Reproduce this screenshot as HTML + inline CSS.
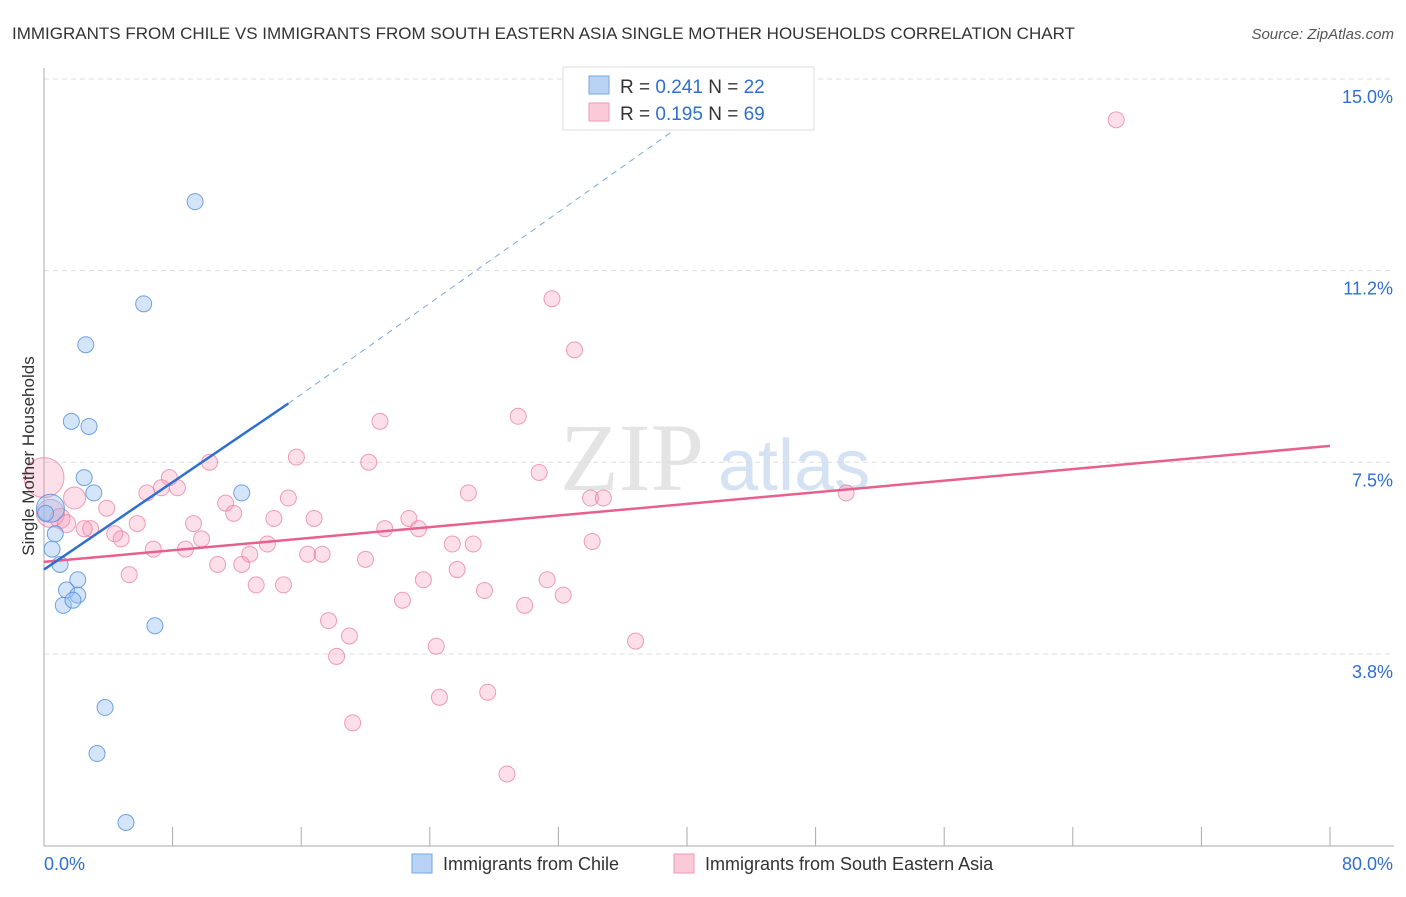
<!DOCTYPE html>
<html><head><meta charset="utf-8"><style>
body{margin:0;background:#fff;font-family:"Liberation Sans",sans-serif;}
</style></head><body>
<svg width="1406" height="892" xmlns="http://www.w3.org/2000/svg" font-family="Liberation Sans, sans-serif">
<text x="12" y="39" font-size="17" fill="#333">IMMIGRANTS FROM CHILE VS IMMIGRANTS FROM SOUTH EASTERN ASIA SINGLE MOTHER HOUSEHOLDS CORRELATION CHART</text>
<text x="1394" y="39" font-size="15" fill="#555" text-anchor="end" font-style="italic">Source: ZipAtlas.com</text>
<text x="560" y="490" font-size="96" fill="#e4e4e4" font-family="Liberation Serif, serif">ZIP</text>
<text x="718" y="490" font-size="72" fill="#d4e2f4">atlas</text>
<g id="grid"></g>
<g id="axes"></g>
<g id="pts"></g>
<g id="lines"></g>
<text x="34" y="456" font-size="17" fill="#333" text-anchor="middle" transform="rotate(-90 34 456)">Single Mother Households</text>
<g>
<rect x="563" y="67" width="251" height="63" fill="#fff" stroke="#ddd"/>
<rect x="589" y="76" width="20" height="18" fill="#b8d3f5" stroke="#7aa7e0"/>
<rect x="589" y="103" width="20" height="18" fill="#fbcad8" stroke="#ef9ab4"/>
<text x="620" y="93" font-size="19" fill="#333">R = <tspan fill="#2f6fd1">0.241</tspan>   N = <tspan fill="#2f6fd1">22</tspan></text>
<text x="620" y="120" font-size="19" fill="#333">R = <tspan fill="#2f6fd1">0.195</tspan>   N = <tspan fill="#2f6fd1">69</tspan></text>
</g>
<g>
<rect x="412" y="854" width="20" height="19" fill="#b8d3f5" stroke="#7aa7e0"/>
<text x="443" y="870" font-size="18" fill="#333">Immigrants from Chile</text>
<rect x="674" y="854" width="20" height="19" fill="#fbcad8" stroke="#ef9ab4"/>
<text x="705" y="870" font-size="18" fill="#333">Immigrants from South Eastern Asia</text>
</g>
<text x="44" y="870" font-size="18" fill="#2f6fd1">0.0%</text>
<text x="1393" y="870" font-size="18" fill="#2f6fd1" text-anchor="end">80.0%</text>
</svg>
<script>
const yTicks=[15.0,11.25,7.5,3.75];
const yTickLabels=["15.0%","11.2%","7.5%","3.8%"];
const xTicks=[0,8,16,24,32,40,48,56,64,72,80];
const chileX=[9.4,6.2,2.6,1.7,2.8,2.5,3.1,12.3,0.4,0.7,0.5,1.0,2.1,1.4,2.1,1.2,1.8,6.9,3.8,3.3,5.1,0.1];
const chileY=[12.6,10.6,9.8,8.3,8.2,7.2,6.9,6.9,6.6,6.1,5.8,5.5,5.2,5.0,4.9,4.7,4.8,4.3,2.7,1.8,0.45,6.5];
const chileR=[8,8,8,8,8,8,8,8,14,8,8,8,8,8,8,8,8,8,8,8,8,8];
const seaX=[66.7,31.6,33.0,20.9,29.5,15.7,20.2,10.3,30.8,7.8,7.3,8.3,26.4,49.9,6.4,15.2,11.3,34.0,34.8,3.9,11.8,16.8,14.3,22.7,5.8,9.3,23.3,21.2,2.9,4.4,4.8,9.8,25.4,26.7,34.1,13.9,6.8,8.8,12.8,16.4,17.3,20.0,10.8,12.3,25.7,5.3,23.6,31.3,13.2,14.9,27.4,32.3,22.3,29.9,17.7,19.0,36.8,24.4,18.2,27.6,24.6,19.2,28.8,0.0,0.4,1.9,1.0,1.4,2.5];
const seaY=[14.2,10.7,9.7,8.3,8.4,7.6,7.5,7.5,7.3,7.2,7.0,7.0,6.9,6.9,6.9,6.8,6.7,6.8,6.8,6.6,6.5,6.4,6.4,6.4,6.3,6.3,6.2,6.2,6.2,6.1,6.0,6.0,5.9,5.9,5.95,5.9,5.8,5.8,5.7,5.7,5.7,5.6,5.5,5.5,5.4,5.3,5.2,5.2,5.1,5.1,4.99,4.9,4.8,4.7,4.4,4.1,4.0,3.9,3.7,3.0,2.9,2.4,1.4,7.2,6.5,6.8,6.4,6.3,6.2];
const seaR=[8,8,8,8,8,8,8,8,8,8,8,8,8,8,8,8,8,8,8,8,8,8,8,8,8,8,8,8,8,8,8,8,8,8,8,8,8,8,8,8,8,8,8,8,8,8,8,8,8,8,8,8,8,8,8,8,8,8,8,8,8,8,8,20,14,11,10,9,8];
const chileTrend=[[0,5.4],[15.2,8.65]];
const chileDash=[[15.2,8.65],[41,14.4]];
const seaTrend=[[0,5.55],[80,7.82]];
const NS="http://www.w3.org/2000/svg";
const xs=v=>44+v*1286/80;
const ys=v=>845.5-v*51.1;
function mk(tag,attrs,parent){const e=document.createElementNS(NS,tag);for(const k in attrs)e.setAttribute(k,attrs[k]);document.getElementById(parent).appendChild(e);return e;}
yTicks.forEach((t,i)=>{
 const l=mk('line',{x1:44,x2:1394,y1:ys(t),y2:ys(t),stroke:'#ddd','stroke-dasharray':'5,4'},'grid');
 
 
 const tx=mk('text',{x:1393,y:ys(t)+24,'font-size':18,fill:'#2f6fd1','text-anchor':'end'},'grid');
 tx.textContent=yTickLabels[i];
 
 
});
let ax=mk('line',{x1:44,x2:44,y1:68,y2:846,stroke:'#aaa'},'axes');


ax=mk('line',{x1:44,x2:1394,y1:846,y2:846,stroke:'#aaa'},'axes');


xTicks.forEach(t=>{
 const l=mk('line',{x1:xs(t),x2:xs(t),y1:827,y2:846,stroke:'#aaa'},'axes');
 
 
});
seaX.forEach((v,i)=>{
 const c=mk('circle',{cx:xs(v),cy:ys(seaY[i]),r:seaR[i],fill:'rgba(244,150,180,0.3)',stroke:'rgba(232,120,155,0.7)','stroke-width':1},'pts');
 
 
});
chileX.forEach((v,i)=>{
 const c=mk('circle',{cx:xs(v),cy:ys(chileY[i]),r:chileR[i],fill:'rgba(150,190,240,0.4)',stroke:'rgba(80,140,220,0.8)','stroke-width':1},'pts');
 
 
});
let tl=mk('line',{x1:xs(seaTrend[0][0]),y1:ys(seaTrend[0][1]),x2:xs(seaTrend[1][0]),y2:ys(seaTrend[1][1]),stroke:'#e8608e','stroke-width':2.5},'lines');


tl=mk('line',{x1:xs(chileTrend[0][0]),y1:ys(chileTrend[0][1]),x2:xs(chileTrend[1][0]),y2:ys(chileTrend[1][1]),stroke:'#2f6fd1','stroke-width':2.5},'lines');


tl=mk('line',{x1:xs(chileDash[0][0]),y1:ys(chileDash[0][1]),x2:xs(chileDash[1][0]),y2:ys(chileDash[1][1]),stroke:'#7aa7e0','stroke-width':1,'stroke-dasharray':'6,5'},'lines');


</script>
</body></html>
